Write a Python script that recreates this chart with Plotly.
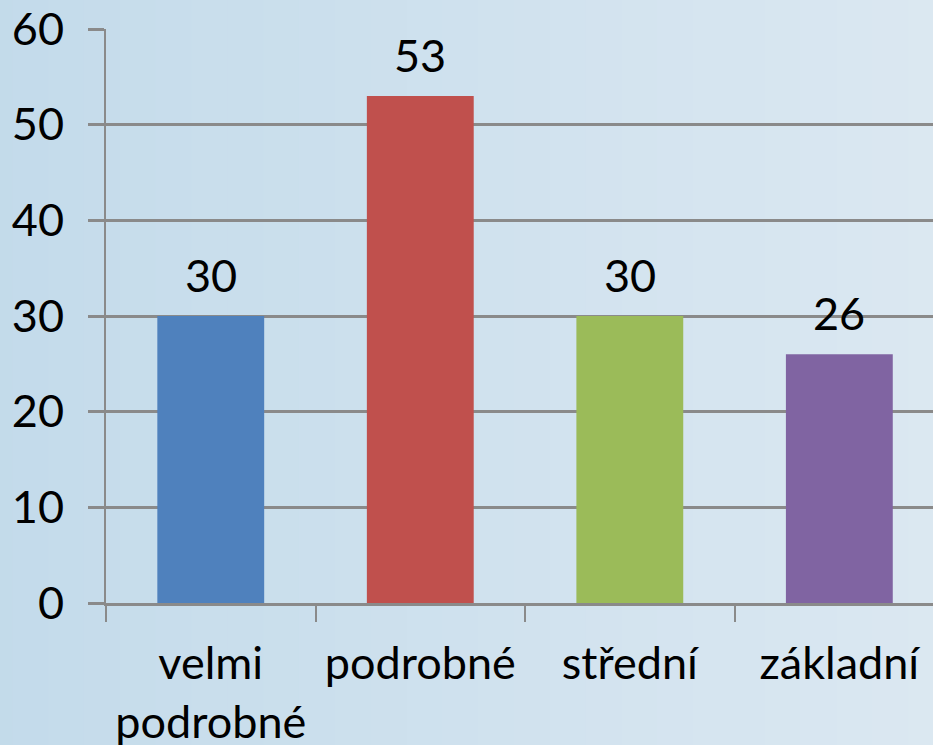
import plotly.graph_objects as go

categories = ["velmi<br>podrobné", "podrobné", "střední", "základní"]
values = [30, 53, 30, 26]
colors = ["#4F81BD", "#C0504D", "#9BBB59", "#8064A2"]
y_ticks = [0, 10, 20, 30, 40, 50, 60]

FONT = "Lato"
FS = 45

fig = go.Figure()
fig.add_trace(go.Bar(
    x=categories, y=values, marker_color=colors, marker_line_width=0,
    width=0.51, showlegend=False, hoverinfo="skip",
))

for c, v in zip(categories, values):
    fig.add_annotation(x=c, y=v, text=str(v), showarrow=False,
                       yanchor="bottom", yshift=12,
                       font=dict(family=FONT, size=FS, color="black"))

# background gradient (left darker -> right lighter)
n = 30
c0 = (194, 218, 234)
c1 = (221, 233, 242)
for i in range(n):
    t = i / (n - 1)
    col = tuple(round(a + (b - a) * t) for a, b in zip(c0, c1))
    fig.add_shape(type="rect", xref="paper", yref="paper",
                  x0=-0.2 + i * 1.3 / n, x1=-0.2 + (i + 1) * 1.3 / n + 0.002,
                  y0=-0.5, y1=1.2, fillcolor="rgb(%d,%d,%d)" % col,
                  line_width=0, layer="below")

fig.update_layout(
    width=933, height=745,
    margin=dict(l=106, r=0, t=29, b=142),
    paper_bgcolor="#d2e3ef", plot_bgcolor="rgba(0,0,0,0)",
    font=dict(family=FONT, size=FS, color="black"),
    bargap=0.49,
)
fig.update_xaxes(
    range=[-0.5, 3.447], tickson="boundaries", ticks="outside", ticklen=16,
    tickwidth=2, tickcolor="#8a8a8a", showline=True, linecolor="#8a8a8a",
    linewidth=3, showgrid=False, tickfont=dict(family=FONT, size=FS),
    ticklabelstandoff=19, automargin=False,
)
fig.update_yaxes(
    range=[0, 60], tickvals=y_ticks, ticks="outside", ticklen=16,
    tickwidth=3, tickcolor="#8a8a8a", showline=True, linecolor="#8a8a8a",
    linewidth=2, showgrid=True, gridcolor="#8a8a8a", gridwidth=3,
    zeroline=False, tickfont=dict(family=FONT, size=FS), ticklabelstandoff=15,
    automargin=False,
)

fig.write_html("out.html", config={"displayModeBar": False},
               post_script="document.body.style.margin='0';")
